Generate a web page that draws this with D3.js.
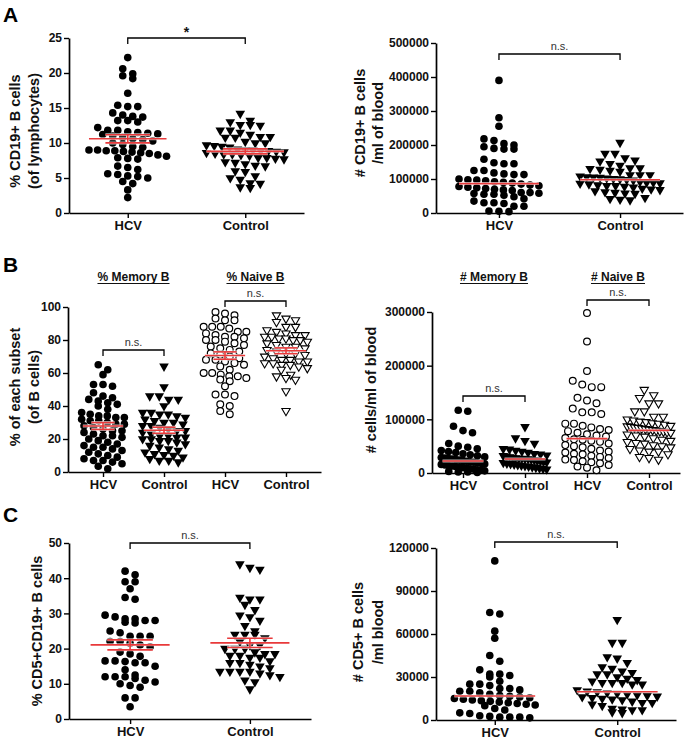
<!DOCTYPE html>
<html><head><meta charset="utf-8">
<script src="https://cdn.jsdelivr.net/npm/d3@7"></script>
<style>
body{margin:0;background:#fff}
svg{display:block;font-family:"Liberation Sans",Arial,sans-serif}
</style>
</head><body>
<svg id="c" width="686" height="741"></svg>
<script>
// ---------------- DATA ----------------
const groupLabels = ["HCV", "Control"];
const subsetLabels = ["HCV", "Control", "HCV", "Control"];

const ticksA1 = [0, 5, 10, 15, 20, 25];
const ticksA2 = [0, 100000, 200000, 300000, 400000, 500000];
const ticksB1 = [0, 20, 40, 60, 80, 100];
const ticksB2 = [0, 100000, 200000, 300000];
const ticksC1 = [0, 10, 20, 30, 40, 50];
const ticksC2 = [0, 30000, 60000, 90000, 120000];

// A left: % CD19+ B cells (of lymphocytes)
const a1HCV = [22.2, 20.6, 19.9, 19.6, 19.2, 17.1, 15.4, 15.2, 15.2, 14.3, 14.0, 13.8, 13.7, 13.2, 13.0, 13.2,
  12.2, 11.8, 11.8, 11.6, 11.5, 11.4, 11.3, 11.2, 11.0, 10.8, 10.6, 10.5, 10.3, 10.0, 9.8, 9.5, 9.4,
  9.0, 9.0, 8.9, 8.9, 8.8, 8.7, 8.6, 8.5, 8.3, 8.1, 7.9, 7.8, 7.7, 6.7, 6.5, 6.2, 5.6, 5.5, 5.3, 5.2, 5.0,
  4.5, 4.2, 3.3, 2.2];
const a1Control = [14.2, 13.2, 13.0, 12.6, 12.5, 12.6, 11.8, 11.8, 11.5, 11.2, 10.9, 10.8, 10.9, 10.8, 10.2,
  10.0, 10.0, 9.6, 9.7, 9.5, 9.4, 9.1, 9.0, 9.0, 8.9, 8.9, 8.8, 8.7, 8.6, 8.5, 8.4, 8.4, 8.3, 8.2, 7.9, 7.9,
  7.8, 7.7, 7.3, 7.2, 7.0, 6.8, 6.7, 6.0, 5.9, 5.3, 5.0, 4.8, 4.3, 4.2, 3.7, 3.6];

// A right: # CD19+ B cells / ml of blood
const a2HCV = [390000, 280000, 255000, 218000, 213000, 204000, 200000, 195000, 190000, 188000, 188000,
  158000, 148000, 145000, 145000, 125000, 125000, 118000, 115000, 113000, 113000, 100000, 98000, 97000,
  95000, 92000, 90000, 88000, 85000, 82000, 80000, 78000, 76000, 74000, 72000, 70000, 68000, 66000,
  60000, 60000, 58000, 57000, 55000, 55000, 52000, 48000, 42000, 35000, 30000, 30000, 28000, 20000,
  20000, 6000, 5000, 4000];
const a2Control = [207000, 175000, 175000, 162000, 155000, 152000, 145000, 140000, 132000, 132000, 130000,
  128000, 125000, 122000, 112000, 112000, 112000, 108000, 106000, 105000, 104000, 102000, 101000, 100000,
  98000, 96000, 92000, 90000, 90000, 88000, 87000, 85000, 82000, 80000, 80000, 78000, 76000, 72000,
  70000, 68000, 65000, 62000, 60000, 58000, 57000, 45000, 42000, 40000, 38000];

// B left: % of each subset (of B cells)
const b1MemHCV = [65, 62, 59, 53, 53, 52, 48, 46, 45, 44, 43, 42, 41, 40, 38, 36, 35, 34, 34, 33, 33, 32,
  31, 31, 30, 29, 29, 28, 27, 26, 25, 25, 24, 23, 22, 22, 21, 20, 19, 18, 17, 16, 15, 15, 14, 13, 12, 11,
  10, 9, 8, 7, 7, 6, 5, 3.5, 2];
const b1MemControl = [64, 51.5, 46, 46, 44, 44, 40, 36, 36, 35, 35, 34, 33, 32, 31, 30, 30, 29, 28, 28, 27,
  26, 25, 25, 24, 23, 22, 22, 21, 21, 20, 20, 19, 19, 18, 17, 16, 15, 14, 13, 12, 11, 10.5, 10, 9, 8, 7, 7, 6];
const b1NaiveHCV = [97, 96, 95, 93, 92, 92, 88, 88, 87, 88, 85, 85, 84, 83, 82, 82, 81, 80, 80, 79, 78, 77,
  76, 75, 74, 73, 72, 71, 70, 69, 68, 68, 67, 66, 65, 64, 62, 60, 60, 59, 58, 58, 57, 56, 55, 52, 47, 47,
  46, 41, 40, 37, 35];
const b1NaiveControl = [95, 93, 92, 91, 88, 88, 86, 85, 84, 83, 83, 82, 82, 81, 81, 80, 80, 79, 78, 77, 76,
  76, 75, 74, 73, 72, 72, 71, 70, 69, 68, 68, 67, 67, 66, 66, 65, 65, 64, 63, 62, 59, 58, 57, 56, 49, 37];

// B right: # cells / ml of blood
const b2MemHCV = [117000, 115000, 87000, 79000, 75000, 55000, 50000, 48000, 45000, 42000, 40000, 38000,
  36000, 34000, 32000, 30000, 29000, 28000, 27000, 26000, 25000, 24000, 23000, 22000, 21000, 20000,
  19000, 18000, 17000, 16000, 15000, 14000, 13000, 12000, 11000, 10000, 9000, 8000, 7000, 6000, 5000,
  4000, 3000, 2000, 2000, 1000];
const b2MemControl = [86000, 65000, 60000, 55000, 45000, 44000, 42000, 40000, 38000, 36000, 35000, 33000,
  32000, 31000, 30000, 29000, 28000, 27000, 27000, 26000, 26000, 25000, 24000, 23000, 22000, 21000,
  20000, 19000, 18000, 17000, 16000, 15000, 14000, 13000, 12000, 11000, 10000, 9000, 8000, 7000];
const b2NaiveHCV = [298000, 245000, 190000, 172000, 165000, 160000, 160000, 140000, 135000, 130000, 120000,
  113000, 113000, 110000, 92000, 92000, 88000, 85000, 82000, 80000, 78000, 75000, 72000, 70000, 68000,
  65000, 63000, 62000, 60000, 58000, 55000, 52000, 50000, 48000, 45000, 42000, 40000, 38000, 36000,
  35000, 32000, 30000, 28000, 25000, 24000, 22000, 20000, 18000, 15000, 12000, 10000, 5000];
const b2NaiveControl = [155000, 145000, 140000, 130000, 130000, 115000, 115000, 105000, 105000, 100000,
  98000, 96000, 95000, 93000, 92000, 90000, 88000, 87000, 86000, 85000, 84000, 83000, 82000, 81000,
  80000, 79000, 78000, 77000, 76000, 75000, 72000, 70000, 68000, 65000, 62000, 60000, 58000, 56000,
  55000, 52000, 50000, 48000, 45000, 42000, 40000, 40000, 35000, 30000, 28000, 25000];

// C left: % CD5+CD19+ B cells
const c1HCV = [42, 41, 39, 39, 37, 34.5, 34, 29.5, 29, 28.5, 28, 27.5, 27.3, 28, 28.5, 25, 24.5, 23.5, 23.5,
  23.5, 22, 22, 21, 21.5, 20.5, 19, 18.5, 17.8, 16.5, 16, 16, 16.3, 16.5, 15, 14, 12.5, 12, 12, 11.5, 11,
  12, 10.5, 10, 9.5, 9, 6, 6, 3.5];
const c1Control = [44, 42.5, 43, 34.5, 34, 34, 32.5, 31, 29, 28, 29.5, 26.5, 25, 24, 24, 24, 23, 22, 21, 21,
  20, 20, 20, 19, 18.5, 18.5, 18, 17.5, 18, 17.5, 16.5, 16, 16, 15.5, 15, 14.5, 13.5, 13.5, 13.5, 13, 13.5,
  12.5, 12, 11, 10.5, 8.5];

// C right: # CD5+ B cells / ml blood
const c2HCV = [111000, 75000, 74000, 62000, 57000, 45000, 41000, 35000, 32000, 32000, 31000, 30000, 27000,
  25000, 25000, 24000, 22000, 22000, 21000, 20000, 20000, 19000, 18000, 17000, 16500, 16000, 15500,
  15000, 14500, 14000, 13500, 13000, 12500, 12000, 11500, 11000, 10500, 10000, 8000, 7000, 5000, 4500,
  3000, 2500, 2000, 2000, 2000, 1500];
const c2Control = [70000, 54000, 54000, 44000, 43000, 40000, 37000, 36000, 34000, 33000, 32000, 32000,
  30000, 29000, 28000, 27000, 26000, 26000, 26000, 25000, 25000, 21000, 20000, 19500, 19000, 18500,
  18000, 17500, 17000, 16500, 16000, 15500, 15000, 14500, 14000, 13000, 12000, 12000, 11000, 10000,
  8000, 7500, 7000, 7000, 5500, 5000];

// ---------------- DRAWING ----------------
const svg = d3.select("#c");
const RED = "#e8393a";

function swarm(values, cx, y, binH, sp, maxHalf) {
  const sorted = values.slice().sort((a, b) => b - a);
  const rows = [];
  let cur = null;
  for (const v of sorted) {
    const py = y(v);
    if (cur && py - cur.y0 < binH) cur.items.push(v);
    else { cur = { y0: py, items: [v] }; rows.push(cur); }
  }
  const pts = [];
  rows.forEach(r => {
    const n = r.items.length;
    const s = n > 1 ? Math.min(sp, 2 * maxHalf / (n - 1)) : 0;
    r.items.forEach((v, i) => pts.push({ v, x: cx + (i - (n - 1) / 2) * s, y: y(v) }));
  });
  return pts;
}

function panel(cfg) {
  const g = svg.append("g");
  const y = d3.scaleLinear().domain([0, cfg.max]).range([cfg.yBottom, cfg.yTop]);
  const x = d3.scalePoint().domain(cfg.groups.map((d, i) => i))
    .range([cfg.axisX, cfg.xEnd]).padding(cfg.pad);
  const step = x.step();

  // y axis
  const ya = g.append("g").attr("transform", `translate(${cfg.axisX},0)`)
    .call(d3.axisLeft(y).tickValues(cfg.ticks).tickSize(5).tickSizeOuter(0).tickPadding(2)
      .tickFormat(d3.format("d")));
  ya.select(".domain").attr("stroke", "#000").attr("stroke-width", 1.7);
  ya.selectAll(".tick line").attr("stroke", "#000").attr("stroke-width", 1.4);
  ya.selectAll(".tick text").attr("fill", "#111").style("font-size", "12px").style("font-weight", "bold");

  // x axis
  const xa = g.append("g").attr("transform", `translate(0,${cfg.yBottom})`)
    .call(d3.axisBottom(x).tickSize(5).tickSizeOuter(0).tickPadding(3)
      .tickFormat(i => cfg.groups[i].label));
  xa.select(".domain").attr("stroke", "#000").attr("stroke-width", 1.7);
  xa.selectAll(".tick line").attr("stroke", "#000").attr("stroke-width", 1.4);
  xa.selectAll(".tick text").attr("fill", "#111").style("font-size", "13px").style("font-weight", "bold");

  // points
  const sym = d3.symbol().type(d3.symbolTriangle);
  cfg.groups.forEach((grp, i) => {
    const cx = x(i);
    const pts = swarm(grp.values, cx, y, cfg.binH, cfg.sp, step * cfg.spread);
    const sel = g.append("g").selectAll("x").data(pts).enter();
    if (grp.shape === "circle") {
      sel.append("circle")
        .attr("cx", d => d.x).attr("cy", d => d.y)
        .attr("r", grp.fill ? 3.8 : 3.4)
        .attr("fill", grp.fill ? "#000" : "#fff")
        .attr("stroke", "#000").attr("stroke-width", grp.fill ? 0 : 1.2);
    } else {
      sel.append("path")
        .attr("d", sym.size(grp.fill ? 40 : 30)())
        .attr("transform", d => `translate(${d.x},${d.y}) rotate(180)`)
        .attr("fill", grp.fill ? "#000" : "#fff")
        .attr("stroke", "#000").attr("stroke-width", grp.fill ? 0 : 1.1)
        .attr("stroke-linejoin", "miter");
    }
  });

  // center lines (mean ± SEM or median)
  cfg.groups.forEach((grp, i) => {
    const cx = x(i);
    const hw = step * 0.33, cw = step * 0.19;
    const lines = [];
    if (cfg.stat === "mean") {
      const m = d3.mean(grp.values);
      const se = d3.deviation(grp.values) / Math.sqrt(grp.values.length);
      lines.push([cx - hw, y(m), cx + hw, y(m)]);
      lines.push([cx, y(m - se), cx, y(m + se)]);
      lines.push([cx - cw, y(m + se), cx + cw, y(m + se)]);
      lines.push([cx - cw, y(m - se), cx + cw, y(m - se)]);
    } else {
      const md = d3.median(grp.values);
      lines.push([cx - hw, y(md), cx + hw, y(md)]);
    }
    const lg = g.append("g");
    lg.selectAll("line.u").data(lines).enter().append("line")
      .attr("x1", d => d[0]).attr("y1", d => d[1]).attr("x2", d => d[2]).attr("y2", d => d[3])
      .attr("stroke", "#fff").attr("stroke-width", 3).attr("stroke-opacity", 0.7);
    lg.selectAll("line.r").data(lines).enter().append("line")
      .attr("x1", d => d[0]).attr("y1", d => d[1]).attr("x2", d => d[2]).attr("y2", d => d[3])
      .attr("stroke", RED).attr("stroke-width", 1.6);
  });

  // brackets
  cfg.brackets.forEach(b => {
    const x1 = x(b.a), x2 = x(b.b);
    g.append("path")
      .attr("d", `M${x1},${b.y + 6}V${b.y}H${x2}V${b.y + 6}`)
      .attr("fill", "none").attr("stroke", "#000").attr("stroke-width", 1.3);
    const t = g.append("text").attr("x", (x1 + x2) / 2).attr("text-anchor", "middle").text(b.text);
    if (b.text === "*") t.attr("y", b.y - 1).style("font-size", "14px").style("font-weight", "bold").attr("fill", "#111");
    else t.attr("y", b.y - 4).style("font-size", "11px").attr("fill", "#333");
  });

  // titles (underlined)
  (cfg.titles || []).forEach(tt => {
    const cx = (x(tt.a) + x(tt.b)) / 2;
    const t = g.append("text").attr("x", cx).attr("y", cfg.titleY).attr("text-anchor", "middle")
      .style("font-size", "12px").style("font-weight", "bold").attr("fill", "#111").text(tt.text);
    const w = t.node().getComputedTextLength();
    g.append("line").attr("x1", cx - w / 2).attr("x2", cx + w / 2)
      .attr("y1", cfg.titleY + 2.5).attr("y2", cfg.titleY + 2.5)
      .attr("stroke", "#111").attr("stroke-width", 1);
  });

  // y label
  cfg.yLabel.forEach((line, k) => {
    g.append("text")
      .attr("transform", `translate(${cfg.yLabelX[k]},${cfg.yLabelY}) rotate(-90)`)
      .attr("text-anchor", "middle").attr("dy", "0.35em")
      .style("font-size", "14.5px").style("font-weight", "bold").attr("fill", "#111")
      .text(line);
  });
}

const G = (i, values, shape, fill, labels) => ({ label: labels[i], values, shape, fill });

panel({
  axisX: 69, xEnd: 304, pad: 0.5, yBottom: 213, yTop: 38, max: 25, ticks: ticksA1,
  groups: [G(0, a1HCV, "circle", true, groupLabels), G(1, a1Control, "tri", true, groupLabels)],
  stat: "mean", binH: 7, sp: 10, spread: 0.33,
  brackets: [{ a: 0, b: 1, y: 38, text: "*" }],
  yLabel: ["% CD19+ B cells", "(of lymphocytes)"], yLabelX: [15, 34], yLabelY: 131
});
panel({
  axisX: 436, xEnd: 683, pad: 0.52, yBottom: 213, yTop: 43, max: 500000, ticks: ticksA2,
  groups: [G(0, a2HCV, "circle", true, groupLabels), G(1, a2Control, "tri", true, groupLabels)],
  stat: "median", binH: 7, sp: 10, spread: 0.33,
  brackets: [{ a: 0, b: 1, y: 54, text: "n.s." }],
  yLabel: ["# CD19+ B cells", "/ml of blood"], yLabelX: [360, 378], yLabelY: 123
});
panel({
  axisX: 68, xEnd: 321, pad: 0.574, yBottom: 472, yTop: 307, max: 100, ticks: ticksB1,
  groups: [G(0, b1MemHCV, "circle", true, subsetLabels), G(1, b1MemControl, "tri", true, subsetLabels),
           G(2, b1NaiveHCV, "circle", false, subsetLabels), G(3, b1NaiveControl, "tri", false, subsetLabels)],
  stat: "mean", binH: 6.5, sp: 9.5, spread: 0.35,
  brackets: [{ a: 0, b: 1, y: 350, text: "n.s." }, { a: 2, b: 3, y: 301, text: "n.s." }],
  titles: [{ a: 0, b: 1, text: "% Memory B" }, { a: 2, b: 3, text: "% Naive B" }], titleY: 281,
  yLabel: ["% of each subset", "(of B cells)"], yLabelX: [15, 34], yLabelY: 387
});
panel({
  axisX: 432, xEnd: 680, pad: 0.5, yBottom: 473, yTop: 312, max: 300000, ticks: ticksB2,
  groups: [G(0, b2MemHCV, "circle", true, subsetLabels), G(1, b2MemControl, "tri", true, subsetLabels),
           G(2, b2NaiveHCV, "circle", false, subsetLabels), G(3, b2NaiveControl, "tri", false, subsetLabels)],
  stat: "median", binH: 6.5, sp: 9.5, spread: 0.35,
  brackets: [{ a: 0, b: 1, y: 396, text: "n.s." }, { a: 2, b: 3, y: 300, text: "n.s." }],
  titles: [{ a: 0, b: 1, text: "# Memory B" }, { a: 2, b: 3, text: "# Naive B" }], titleY: 281,
  yLabel: ["# cells/ml of blood"], yLabelX: [371], yLabelY: 390
});
panel({
  axisX: 69, xEnd: 311, pad: 0.51, yBottom: 719, yTop: 543, max: 50, ticks: ticksC1,
  groups: [G(0, c1HCV, "circle", true, groupLabels), G(1, c1Control, "tri", true, groupLabels)],
  stat: "mean", binH: 7, sp: 10, spread: 0.33,
  brackets: [{ a: 0, b: 1, y: 543, text: "n.s." }],
  yLabel: ["% CD5+CD19+ B cells"], yLabelX: [37], yLabelY: 631
});
panel({
  axisX: 436, xEnd: 676, pad: 0.48, yBottom: 720, yTop: 548, max: 120000, ticks: ticksC2,
  groups: [G(0, c2HCV, "circle", true, groupLabels), G(1, c2Control, "tri", true, groupLabels)],
  stat: "median", binH: 7, sp: 10, spread: 0.33,
  brackets: [{ a: 0, b: 1, y: 542, text: "n.s." }],
  yLabel: ["# CD5+ B cells", "/ml blood"], yLabelX: [358, 378], yLabelY: 632
});

// panel letters
[["A", 22], ["B", 272], ["C", 522]].forEach(([t, yy]) => {
  svg.append("text").attr("x", 3).attr("y", yy).style("font-size", "21px").style("font-weight", "bold")
    .attr("fill", "#000").text(t);
});
</script>
</body></html>
